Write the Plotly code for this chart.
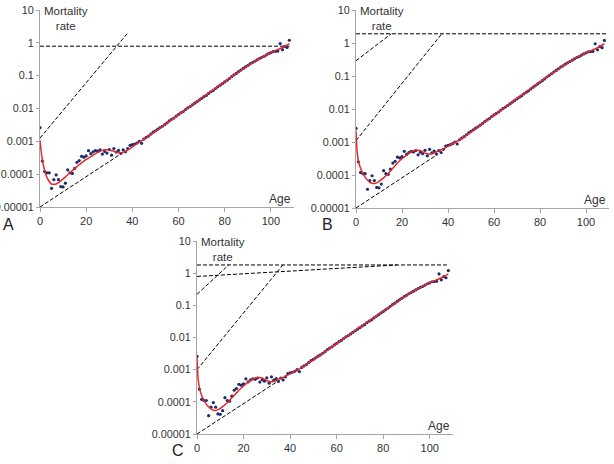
import plotly.graph_objects as go

W, H = 614, 464

ages = list(range(0, 109))
rates = [
    0.0026, 0.00025, 0.00012, 0.00011, 0.00011, 0.000037, 0.000068, 0.000095, 0.000068, 0.000042,
    0.000041, 0.000053, 0.000135, 0.00011, 0.000105, 0.00015, 0.00023, 0.00026, 0.00035, 0.00033,
    0.00036, 0.00052, 0.00042, 0.00048, 0.00052, 0.0005, 0.00055, 0.00041, 0.00049, 0.00044,
    0.00056, 0.00038, 0.0006, 0.00047, 0.00053, 0.00043, 0.00055, 0.00048, 0.0006, 0.00075,
    0.00079, 0.00083, 0.00089, 0.0010, 0.00087, 0.00117, 0.00132, 0.00145, 0.00166, 0.0019,
    0.0021, 0.00234, 0.00263, 0.00288, 0.00324, 0.00363, 0.00417, 0.00468, 0.00513, 0.00589,
    0.0066, 0.0074, 0.0081, 0.0093, 0.0105, 0.0115, 0.0129, 0.0145, 0.0162, 0.0182,
    0.0204, 0.0229, 0.0251, 0.0288, 0.0324, 0.0355, 0.0407, 0.0457, 0.0513, 0.0575,
    0.0646, 0.0724, 0.0813, 0.0933, 0.105, 0.117, 0.132, 0.148, 0.166, 0.186,
    0.204, 0.229, 0.251, 0.275, 0.302, 0.331, 0.363, 0.389, 0.427, 0.468,
    0.50, 0.54, 0.55, 0.56, 0.95, 0.62, 0.78, 0.72, 1.2,
]

fit_ages_A = [0, 0.5, 1, 2, 3, 4, 5, 6, 7, 8, 9, 10, 11, 12, 13, 14, 15, 16, 17, 18, 19, 20,
              21, 22, 23, 24, 25, 26, 27, 28, 29, 30, 31, 32, 33, 34, 35, 36, 37, 38, 39, 40,
              42, 45, 50, 55, 60, 65, 70, 75, 80, 85, 90, 95, 100, 105, 108]
fit_A = [0.00105, 0.0005, 0.00028, 0.00013, 0.00008, 0.00006, 0.00005, 0.000049, 0.00005, 0.000055,
         0.000063, 0.000072, 0.000083, 0.000096, 0.00011, 0.000128, 0.000148, 0.00017, 0.000195, 0.00022,
         0.00025, 0.00028, 0.00031, 0.00034, 0.00038, 0.00042, 0.00046, 0.0005, 0.00053, 0.00055,
         0.00055, 0.00054, 0.00052, 0.0005, 0.00047, 0.00045, 0.00045, 0.00047, 0.0005, 0.00055,
         0.0006, 0.00068, 0.00085, 0.00115, 0.002, 0.0036, 0.0065, 0.0117, 0.021, 0.037,
         0.066, 0.115, 0.2, 0.33, 0.5, 0.72, 0.95]

fit_ages_B = [0, 0.25, 0.5, 1, 1.5, 2, 3, 4, 5, 6, 7, 8, 9, 10, 11, 12, 13, 14, 15, 16, 17, 18,
              19, 20, 21, 22, 23, 24, 25, 26, 27, 28, 29, 30, 31, 32, 33, 34, 35, 36, 38, 40,
              45, 50, 55, 60, 65, 70, 75, 80, 85, 90, 95, 100, 105, 108]
fit_B = [0.0022, 0.0009, 0.0005, 0.00028, 0.0002, 0.00016, 0.00011, 0.000085, 0.00007, 0.00006,
         0.000056, 0.000055, 0.000058, 0.000064, 0.000072, 0.000082, 0.000095, 0.00011, 0.000135, 0.00016,
         0.00019, 0.00023, 0.00027, 0.00031, 0.00035, 0.0004, 0.00045, 0.0005, 0.00054, 0.00056,
         0.00056, 0.00054, 0.0005, 0.00046, 0.00044, 0.00043, 0.00044, 0.00046, 0.0005, 0.00054,
         0.00062, 0.00075, 0.00115, 0.002, 0.0036, 0.0065, 0.0117, 0.021, 0.037, 0.066,
         0.115, 0.2, 0.33, 0.5, 0.72, 0.95]

fit_ages_C = fit_ages_B
fit_C = [0.0024, 0.0009, 0.0005, 0.00028, 0.0002, 0.00016, 0.00011, 0.000085, 0.00007, 0.00006,
         0.000055, 0.000054, 0.000057, 0.000063, 0.000071, 0.000081, 0.000094, 0.00011, 0.000133, 0.00016,
         0.00019, 0.00023, 0.00027, 0.00031, 0.00036, 0.00041, 0.00046, 0.00051, 0.00055, 0.00057,
         0.00057, 0.00055, 0.0005, 0.00046, 0.00043, 0.00042, 0.00043, 0.00046, 0.0005, 0.00054,
         0.00062, 0.00075, 0.00115, 0.002, 0.0036, 0.0065, 0.0117, 0.021, 0.037, 0.066,
         0.115, 0.2, 0.33, 0.5, 0.72, 0.95]

# dashed guide lines: (age0, rate0, age1, rate1)
guides_A = [(0, 0.79, 108, 0.79), (0, 0.00126, 38, 2.0), (0, 0.00001, 36, 0.00046)]
guides_B = [(0, 1.9, 109, 1.9), (0, 0.29, 15.3, 1.9), (0, 0.0011, 37.3, 1.9), (0, 0.00001, 35, 0.0004)]
guides_C = [(0, 1.8, 108, 1.8), (0, 0.79, 86, 1.8), (0, 0.22, 13.6, 1.8),
            (0, 0.001, 36.9, 1.8), (0, 0.00001, 35, 0.00045)]

ytick_vals = [0.00001, 0.0001, 0.001, 0.01, 0.1, 1, 10]
ytick_text = ["0.00001", "0.0001", "0.001", "0.01", "0.1", "1", "10"]
xtick_vals = [0, 20, 40, 60, 80, 100]

# panel boxes in pixels: (left, right, top, bottom)
panels = {
    "A": dict(box=(40, 294, 10, 207), fit=(fit_ages_A, fit_A), guides=guides_A, ax=""),
    "B": dict(box=(356, 609, 10, 208), fit=(fit_ages_B, fit_B), guides=guides_B, ax="2"),
    "C": dict(box=(197, 453, 241, 434), fit=(fit_ages_C, fit_C), guides=guides_C, ax="3"),
}

FONT = "Liberation Sans, Arial, sans-serif"
TXT = "#333333"
AXC = "#a6a6a6"

fig = go.Figure()
layout = dict(
    width=W, height=H, margin=dict(l=0, r=0, t=0, b=0, autoexpand=False),
    paper_bgcolor="white", plot_bgcolor="white", showlegend=False,
    font=dict(family=FONT, color=TXT),
)
annotations = []

for name, p in panels.items():
    ax = p["ax"]
    xa, ya = "x" + ax, "y" + ax
    L, R, T, B = p["box"]
    gx, gy = [], []
    for (a0, r0, a1, r1) in p["guides"]:
        gx += [a0, a1, None]
        gy += [r0, r1, None]
    fig.add_trace(go.Scatter(x=gx, y=gy, mode="lines", xaxis=xa, yaxis=ya,
                             line=dict(color="black", width=1, dash="4px,2px"), hoverinfo="skip"))
    fig.add_trace(go.Scatter(x=ages, y=rates, mode="markers", xaxis=xa, yaxis=ya,
                             marker=dict(color="#1c2b6b", size=3.2)))
    fig.add_trace(go.Scatter(x=p["fit"][0], y=p["fit"][1], mode="lines", xaxis=xa, yaxis=ya,
                             line=dict(color="#e8262a", width=1.5, shape="spline", smoothing=0.6)))
    layout["xaxis" + ax] = dict(
        domain=[L / W, R / W], range=[0, 110], anchor=ya, tickvals=xtick_vals, automargin=False,
        showline=True, linecolor=AXC, linewidth=1, ticks="outside", ticklen=4, tickcolor=AXC,
        showgrid=False, zeroline=False, tickfont=dict(size=11, color=TXT),
    )
    layout["yaxis" + ax] = dict(
        domain=[1 - B / H, 1 - T / H], type="log", range=[-5, 1], anchor=xa, automargin=False,
        tickvals=ytick_vals, ticktext=ytick_text,
        showline=True, linecolor=AXC, linewidth=1, ticks="outside", ticklen=3, tickcolor=AXC,
        showgrid=False, zeroline=False, tickfont=dict(size=10.8, color=TXT),
    )
    # axis titles placed like the original
    annotations.append(dict(text="Mortality<br>rate", x=(L + 26) / W, y=1 - (T + 8) / H,
                            xref="paper", yref="paper", showarrow=False, align="center",
                            font=dict(size=11.5, color=TXT), xanchor="center", yanchor="middle"))
    annotations.append(dict(text="Age", x=(R - 1) / W, y=1 - (B - 8) / H, xref="paper", yref="paper",
                            showarrow=False, font=dict(size=12, color=TXT), xanchor="right", yanchor="middle"))

letters = {"A": (8, 224), "B": (327, 224), "C": (178, 450)}
for k, (lx, ly) in letters.items():
    annotations.append(dict(text=k, x=lx / W, y=1 - ly / H, xref="paper", yref="paper", showarrow=False,
                            font=dict(size=16, color="#222222"), xanchor="center", yanchor="middle"))

layout["annotations"] = annotations
fig.update_layout(**layout)
fig.write_html("out.html")
